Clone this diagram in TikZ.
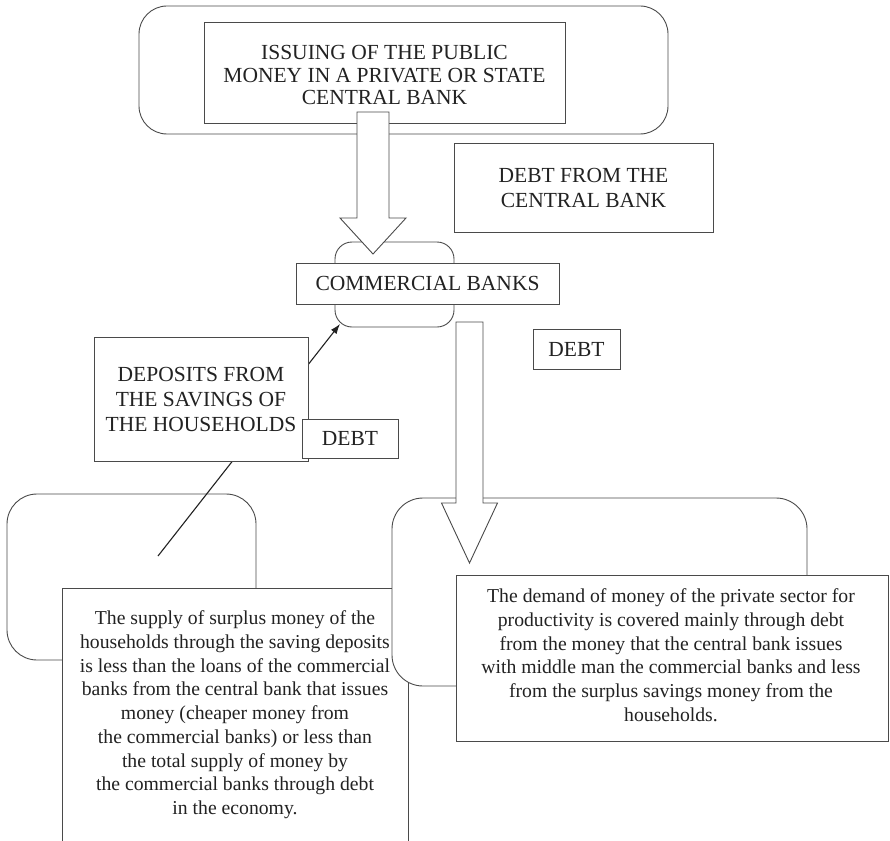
\documentclass[tikz,border=0pt]{standalone}
\usepackage{fontspec}
\setmainfont{Liberation Serif}
\usetikzlibrary{arrows.meta,calc}
\definecolor{edge}{HTML}{4A4A4A}
\definecolor{ink}{HTML}{222222}
\begin{document}
\begin{tikzpicture}[x=1pt,y=-1pt,
  every node/.style={inner sep=0pt,outer sep=0pt,text=ink},
  frame/.style={draw=edge,line width=0.9pt,fill=white},
  panel/.style={frame,rounded corners=#1},
  capstext/.style={font=\fontsize{21.5}{25}\selectfont,align=center},
  bodytext/.style={font=\fontsize{19.7}{23.7}\selectfont,align=center},
  blockarrow/.style={draw=edge,line width=0.9pt,fill=white,line join=miter},
  pointer/.style={draw=ink,line width=1.1pt,-{Latex[length=10pt,width=7pt]}}]
\useasboundingbox[fill=white] (0,0) rectangle (890,840);

% central bank block
\node[panel=28pt,minimum width=529pt,minimum height=128pt] (cbpanel) at (403.5,70) {};
\node[frame,minimum width=361pt,minimum height=101pt] (issue) at (384.5,72.5) {};
\node[capstext,font=\fontsize{21.5}{22.5}\selectfont] (issuetext) at (384.5,75)
  {ISSUING OF THE PUBLIC\\MONEY IN A PRIVATE OR STATE\\CENTRAL BANK};

\node[frame,minimum width=259pt,minimum height=89pt,capstext] (cbdebt) at (583.5,187.5)
  {DEBT FROM THE\\CENTRAL BANK};

% commercial banks
\node[panel=17pt,minimum width=119pt,minimum height=85pt] (cbround) at (394.5,284.5) {};
\node[frame,minimum width=263pt,minimum height=41pt,capstext] (commercial) at (427.5,283.5)
  {COMMERCIAL BANKS};

\node[frame,minimum width=87pt,minimum height=40pt,capstext] (debtright) at (576.5,349) {DEBT};

% households block (left)
\node[panel=30pt,minimum width=249pt,minimum height=166pt] (hhpanel) at (131.5,577) {};

% deposits flow into the commercial banks
\coordinate (dstart) at (158,556);
\draw[pointer] (dstart) -- ($(cbround.south west)+(5,-3)$);

\node[frame,minimum width=214pt,minimum height=124pt,capstext] (deposits) at (201,399)
  {DEPOSITS FROM\\THE SAVINGS OF\\THE HOUSEHOLDS};
\node[frame,minimum width=96pt,minimum height=39pt,capstext] (debtleft) at (350,438.5) {DEBT};

% issuing arrow: central bank to commercial banks
\coordinate (a1top) at (373,112);
\coordinate (a1tip) at (373,254);
\draw[blockarrow] (a1top) ++(-16,0) -- ++(0,106) -- ++(-17,0) -- (a1tip)
  -- ++(33,-36) -- ++(-17,0) -- ++(0,-106) -- cycle;

% supply text (left)
\node[frame,minimum width=346pt,minimum height=256pt] (supplybox) at (235,716) {};
\node[bodytext,anchor=north] (supply) at (235,611)
  {The supply of surplus money of the\\
   households through the saving deposits\\
   is less than the loans of the commercial\\
   banks from the central bank that issues\\
   money (cheaper money from\\
   the commercial banks) or less than\\
   the total supply of money by\\
   the commercial banks through debt\\
   in the economy.};

% private sector block (right)
\node[panel=31pt,minimum width=415pt,minimum height=188pt] (pspanel) at (599.5,592) {};

% lending arrow: commercial banks to private sector
\coordinate (a2top) at (469.5,322);
\coordinate (a2tip) at (469.5,563);
\draw[blockarrow] (a2top) ++(-13.5,0) -- ++(0,181) -- ++(-14.5,0) -- (a2tip)
  -- ++(28,-60) -- ++(-14.5,0) -- ++(0,-181) -- cycle;

\node[frame,minimum width=432pt,minimum height=166pt] (demandbox) at (672,658) {};
\node[bodytext,anchor=north] (demand) at (671,589)
  {The demand of money of the private sector for\\
   productivity is covered mainly through debt\\
   from the money that the central bank issues\\
   with middle man the commercial banks and less\\
   from the surplus savings money from the\\
   households.};
\end{tikzpicture}
\end{document}
